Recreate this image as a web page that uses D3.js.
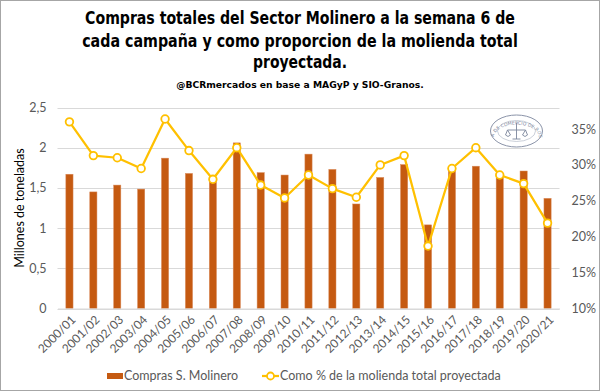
<!DOCTYPE html>
<html><head><meta charset="utf-8">
<script src="https://cdn.jsdelivr.net/npm/d3@7"></script>
<style>
body{margin:0;background:#fff;}
svg{display:block;font-family:Lato,"Open Sans",sans-serif;}
</style></head>
<body>
<svg id="c" width="600" height="392"></svg>
<script>
const categories = ["2000/01","2001/02","2002/03","2003/04","2004/05","2005/06","2006/07","2007/08","2008/09","2009/10","2010/11","2011/12","2012/13","2013/14","2014/15","2015/16","2016/17","2017/18","2018/19","2019/20","2020/21"];
const compras = [1.67,1.45,1.535,1.485,1.87,1.68,1.6,2.06,1.69,1.66,1.92,1.73,1.30,1.63,1.79,1.04,1.75,1.77,1.68,1.71,1.37];
const proporcion = [0.36,0.313,0.310,0.295,0.364,0.320,0.280,0.324,0.272,0.254,0.286,0.267,0.255,0.300,0.313,0.187,0.295,0.324,0.286,0.274,0.219];
const leftTicks = [0,0.5,1,1.5,2,2.5];
const rightTicks = [0.10,0.15,0.20,0.25,0.30,0.35];
const titleLines = ["Compras totales del Sector Molinero a la semana 6 de","cada campaña y como proporcion de la molienda total","proyectada."];
const subtitle = "@BCRmercados en base a MAGyP y SIO-Granos.";
const yTitle = "Millones de toneladas";
const legendLabels = ["Compras S. Molinero","Como % de la molienda total proyectada"];

const BAR = "#C55A11", LINE = "#FFC000", GRID = "#D9D9D9", TXT = "#595959";
const svg = d3.select("#c");
const L = 57.5, R = 559.5, T = 107.5, B = 308.5;

svg.append("rect").attr("x",0.5).attr("y",0.5).attr("width",599).attr("height",390)
  .attr("fill","#fff").attr("stroke","#A6A6A6").attr("stroke-width",1);

const x = d3.scaleBand().domain(categories).range([L,R]).paddingInner(0.7).paddingOuter(0.35);
const y = d3.scaleLinear().domain([0,2.5]).range([B,T]);
const y2 = d3.scaleLinear().domain([0.10,0.38]).range([B,T]);

// grid
svg.append("g").selectAll("line").data(leftTicks).join("line")
  .attr("x1",L).attr("x2",R).attr("y1",d=>Math.round(y(d))+0.5).attr("y2",d=>Math.round(y(d))+0.5)
  .attr("stroke",GRID).attr("stroke-width",1);

// left axis
const ya = svg.append("g").attr("transform",`translate(${L},0)`)
  .call(d3.axisLeft(y).tickValues(leftTicks).tickSize(0).tickPadding(11).tickFormat(d=>d3.format(",")(d).replace(".",",")));
ya.select(".domain").remove();
ya.selectAll("text").attr("font-family","Lato").attr("font-size",12.5).attr("fill",TXT);

// right axis
const ya2 = svg.append("g").attr("transform",`translate(${R},0)`)
  .call(d3.axisRight(y2).tickValues(rightTicks).tickSize(0).tickPadding(12).tickFormat(d3.format(".0%")));
ya2.select(".domain").remove();
ya2.selectAll("text").attr("font-family","Lato").attr("font-size",12.5).attr("fill",TXT);

// logo (seal)
const lg = svg.append("g").attr("transform","translate(516.5,131)");
lg.append("ellipse").attr("rx",26).attr("ry",16).attr("fill","#fff").attr("stroke","#8A93A8").attr("stroke-width",1);
lg.append("ellipse").attr("rx",19).attr("ry",10.5).attr("fill","none").attr("stroke","#A8B0C0").attr("stroke-width",0.6);
lg.append("path").attr("id","sealpath").attr("d","M-22.5,6 A22.5,12.5 0 1,1 22.5,6").attr("fill","none");
lg.append("text").attr("font-size",4.6).attr("fill","#7C869C").attr("font-family","DejaVu Sans")
  .append("textPath").attr("href","#sealpath").attr("startOffset","50%").attr("text-anchor","middle")
  .text("BOLSA DE COMERCIO DE ROSARIO");
lg.append("path").attr("d","M-9,-1 L9,-1 M0,-8 L0,8 M-11,4 q2.5,3 5,0 M6,4 q2.5,3 5,0 M-4,8 L4,8 M-9,-1 L-11,4 M-9,-1 L-6,4 M9,-1 L6,4 M9,-1 L11,4")
  .attr("fill","none").attr("stroke","#7C869C").attr("stroke-width",0.9);

// bars
svg.append("g").selectAll("rect").data(categories).join("rect")
  .attr("x",d=>x(d)).attr("width",x.bandwidth())
  .attr("y",(d,i)=>y(compras[i])).attr("height",(d,i)=>B-y(compras[i]))
  .attr("fill",BAR).attr("stroke","#D98A5A").attr("stroke-width",0.5);

// x axis
const xa = svg.append("g").attr("transform",`translate(0,${B})`)
  .call(d3.axisBottom(x).tickSize(0).tickFormat(d=>d));
xa.select(".domain").attr("stroke",GRID);
xa.selectAll("text").attr("font-family","Lato").attr("font-size",12).attr("fill",TXT)
  .attr("text-anchor","end").attr("dy","0.35em")
  .attr("transform","translate(4,9) rotate(-45)").attr("y",0).attr("x",0);

// line
const cx = d=>x(d)+x.bandwidth()/2;
const line = d3.line().x((d,i)=>cx(categories[i])).y(d=>y2(d));
svg.append("path").datum(proporcion).attr("d",line).attr("fill","none")
  .attr("stroke",LINE).attr("stroke-width",2.25).attr("stroke-linejoin","round");
svg.append("g").selectAll("circle").data(proporcion).join("circle")
  .attr("cx",(d,i)=>cx(categories[i])).attr("cy",d=>y2(d)).attr("r",3.8)
  .attr("fill","#fff").attr("stroke",LINE).attr("stroke-width",1.8);

// y title
svg.append("text").attr("transform","translate(24,208) rotate(-90)").attr("text-anchor","middle")
  .attr("font-family","Lato").attr("font-size",12.5).attr("fill","#000").text(yTitle);

// titles: condensed bold, horizontally scaled to the reference widths
const tSpec = [[24,430,17],[47,436,17],[68,94,17]];
function fitText(str, yy, target, fs){
  const t = svg.append("text").attr("x",0).attr("y",0)
    .attr("font-family","'DejaVu Sans',sans-serif").attr("font-weight","bold")
    .attr("font-stretch","condensed").attr("font-size",fs)
    .attr("text-anchor","middle").attr("fill","#000").text(str);
  const w = t.node().getComputedTextLength();
  const s = w > 0 ? target / w : 1;
  t.attr("transform",`translate(300,${yy}) scale(${s},1)`);
}
titleLines.forEach((t,i)=>fitText(t, tSpec[i][0], tSpec[i][1], tSpec[i][2]));
fitText(subtitle, 88, 248, 9.5);

// legend
const lgY = 376;
svg.append("rect").attr("x",107).attr("y",lgY-3).attr("width",16).attr("height",6).attr("fill",BAR);
svg.append("text").attr("x",124).attr("y",lgY).attr("dy","0.35em").attr("font-family","Lato").attr("font-size",12.5).attr("fill",TXT).text(legendLabels[0]);
svg.append("line").attr("x1",262).attr("x2",279).attr("y1",lgY).attr("y2",lgY).attr("stroke",LINE).attr("stroke-width",2.25);
svg.append("circle").attr("cx",270.5).attr("cy",lgY).attr("r",3.5).attr("fill","#fff").attr("stroke",LINE).attr("stroke-width",1.8);
svg.append("text").attr("x",280).attr("y",lgY).attr("dy","0.35em").attr("font-family","Lato").attr("font-size",12.5).attr("fill",TXT).text(legendLabels[1]);
</script>
</body></html>
